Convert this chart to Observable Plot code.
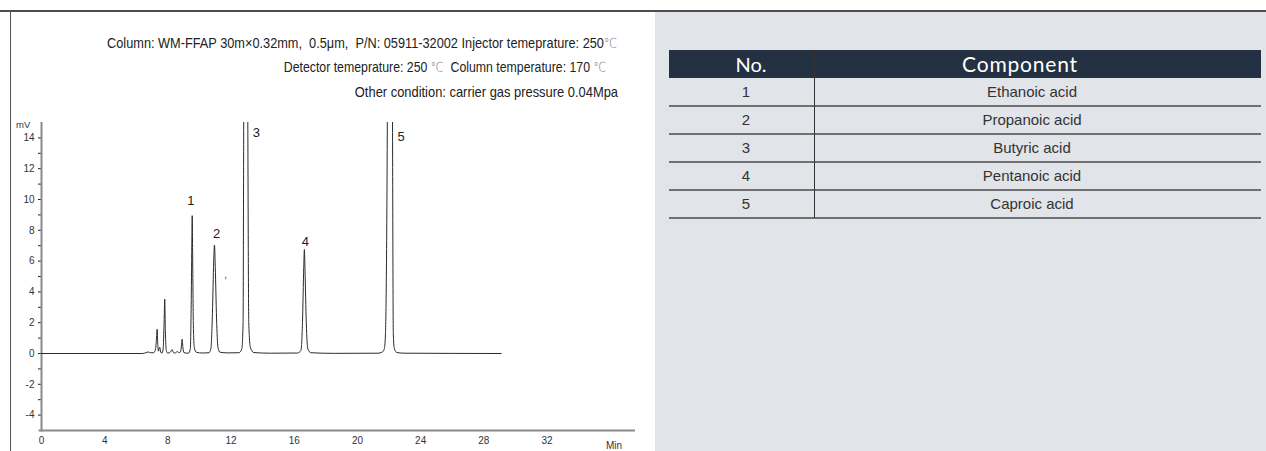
<!DOCTYPE html>
<html>
<head>
<meta charset="utf-8">
<script src="https://cdn.jsdelivr.net/npm/d3@7"></script>
<script src="https://cdn.jsdelivr.net/npm/@observablehq/plot@0.6"></script>
<style>
  html, body { margin: 0; padding: 0; background: #fff; }
  #wrap { position: relative; width: 1266px; height: 451px; overflow: hidden; background: #fff; font-family: "Liberation Sans", Arial, sans-serif; }
  .abs { position: absolute; }
  .cond { font-family: "Liberation Sans", Arial, sans-serif; font-size: 15px; color: #222; white-space: nowrap; text-align: right; transform-origin: right center; }
  .deg { color: #777; font-family: "DejaVu Sans", sans-serif; font-weight: 300; font-size: 14px; }
  .cell { position: absolute; white-space: nowrap; transform: translateX(-50%); }
</style>
</head>
<body>
<div id="wrap">
  <div class="abs" style="left:0;top:10px;width:1266px;height:2px;background:#4d4d4d"></div>
  <div class="abs" style="left:10px;top:11px;width:1px;height:440px;background:#555"></div>
  <div class="abs" style="left:655px;top:12px;width:611px;height:439px;background:#e1e4e9"></div>
  <div class="abs cond" style="top:34px;right:649px;transform:scaleX(0.85)">Column: WM-FFAP 30m×0.32mm,&nbsp; 0.5μm,&nbsp; P/N: 05911-32002 Injector temeprature: 250<span class="deg">℃</span></div>
  <div class="abs cond" style="top:58px;right:660px;transform:scaleX(0.82)">Detector temeprature: 250 <span class="deg">℃</span>&nbsp; Column temperature: 170 <span class="deg">℃</span></div>
  <div class="abs cond" style="top:83px;right:648px;transform:scaleX(0.86)">Other condition: carrier gas pressure 0.04Mpa</div>
  <div class="abs" style="left:16px;top:119px;font-size:9.5px;color:#333">mV</div>
  <div class="abs" style="left:606px;top:440px;font-size:10px;color:#333">Min</div>
  <div id="chart" class="abs" style="left:0;top:100px"></div>
  <div id="table" class="abs" style="left:0;top:0;width:1266px;height:451px"></div>
</div>
<script>
// ---- data ----
const traceTime = [0, 6.4, 6.6, 6.75, 6.9, 7.1, 7.22, 7.28, 7.32, 7.36, 7.4, 7.45, 7.49, 7.54, 7.62, 7.7, 7.76, 7.8, 7.84, 7.9, 7.98, 8.12, 8.2, 8.27, 8.34, 8.45, 8.55, 8.62, 8.7, 8.8, 8.86, 8.9, 8.95, 9.02, 9.3, 9.42, 9.48, 9.52, 9.54, 9.57, 9.61, 9.67, 9.8, 10.2, 10.6, 10.72, 10.82, 10.9, 10.95, 11.0, 11.08, 11.17, 11.3, 11.8, 12.5, 12.68, 12.76, 12.8, 12.93, 13.06, 13.12, 13.22, 13.45, 14.5, 16.2, 16.42, 16.52, 16.6, 16.64, 16.68, 16.76, 16.86, 17.05, 18.5, 21.3, 21.55, 21.7, 21.77, 21.89, 22.05, 22.22, 22.27, 22.34, 22.5, 23.0, 29.1];
const traceSignal = [0, 0, 0.05, 0.1, 0.05, 0.05, 0.3, 1.0, 1.58, 0.6, 0.15, 0.35, 0.4, 0.1, 0.02, 0.3, 2.0, 3.53, 1.5, 0.2, 0.03, 0.05, 0.15, 0.25, 0.08, 0.02, 0.1, 0.12, 0.05, 0.1, 0.5, 0.93, 0.4, 0.05, 0.02, 0.3, 3.5, 7.5, 8.95, 6.0, 2.0, 0.4, 0.08, 0.03, 0.05, 0.3, 2.6, 6.0, 7.04, 5.6, 2.3, 0.4, 0.08, 0.04, 0.05, 0.3, 2.0, 14.9, 60, 14.9, 2.0, 0.4, 0.06, 0.02, 0.03, 0.2, 2.0, 5.6, 6.75, 5.4, 2.0, 0.3, 0.05, 0.01, 0.02, 0.08, 0.3, 1.2, 14.9, 120, 14.9, 1.2, 0.3, 0.06, 0.02, 0];

const peakNo = ["1", "2", "3", "4", "5"];
const peakLabelTime = [9.45, 11.08, 13.6, 16.7, 22.77];
const peakLabelSignal = [9.92, 7.8, 14.36, 7.28, 14.1];

const markText = [","];
const markTime = [11.65];
const markSignal = [5.1];

const xTicks = [0, 4, 8, 12, 16, 20, 24, 28, 32];
const yTicks = [-4, -3, -2, -1, 0, 1, 2, 3, 4, 5, 6, 7, 8, 9, 10, 11, 12, 13, 14];
const yLabelled = [-4, -2, 0, 2, 4, 6, 8, 10, 12, 14];

const tableHeader = ["No.", "Component"];
const componentNo = ["1", "2", "3", "4", "5"];
const componentName = ["Ethanoic acid", "Propanoic acid", "Butyric acid", "Pentanoic acid", "Caproic acid"];

// ---- chart ----
const trace = traceTime.map((t, i) => ({t, v: traceSignal[i]}));
const labels = peakNo.map((n, i) => ({n, t: peakLabelTime[i], v: peakLabelSignal[i]}));
const marks2 = markText.map((s, i) => ({s, t: markTime[i], v: markSignal[i]}));

const chart = Plot.plot({
  width: 655,
  height: 351,
  marginLeft: 41,
  marginRight: 20,
  marginTop: 22,
  marginBottom: 21,
  style: {fontFamily: "Liberation Sans, Arial, sans-serif", background: "transparent", overflow: "visible"},
  x: {domain: [0, 37.6]},
  y: {domain: [-5, 15]},
  marks: [
    Plot.axisY({ticks: yTicks, tickSize: 3, tickPadding: 4, fontSize: 10, stroke: "#222", fill: "#333",
      tickFormat: d => yLabelled.includes(d) ? String(d) : "", label: null}),
    Plot.axisX({ticks: xTicks, tickSize: 0, tickPadding: 6, fontSize: 10, fill: "#333", label: null}),
    Plot.ruleX([0], {y1: -5.1, y2: 15, stroke: "#8a8a8a", strokeWidth: 2}),
    Plot.ruleY([-5], {x1: -0.15, x2: 37.6, stroke: "#8a8a8a", strokeWidth: 2}),
    Plot.line(trace, {x: "t", y: "v", stroke: "#2b2b2b", strokeWidth: 1, curve: "monotone-x", clip: true}),
    Plot.text(labels, {x: "t", y: "v", text: "n", fontSize: 13, fill: "#222"}),
    Plot.text(marks2, {x: "t", y: "v", text: "s", fontSize: 10, fill: "#444"})
  ]
});
document.getElementById("chart").append(chart);

// ---- table ----
const tbl = document.getElementById("table");
const tLeft = 669, tRight = 1261, divX = 814;
const headTop = 50, headH = 28, rowH = 28;
function el(style, text, cls) {
  const d = document.createElement("div");
  d.className = cls || "abs";
  d.setAttribute("style", style);
  if (text != null) d.textContent = text;
  tbl.append(d);
  return d;
}
el(`left:${tLeft}px;top:${headTop}px;width:${tRight - tLeft}px;height:${headH}px;background:#243142`);
el(`left:751px;top:${headTop + 2}px;font-family:Lato, 'Open Sans', sans-serif;font-size:20px;color:#fff`, tableHeader[0], "cell");
el(`left:1020px;top:${headTop + 1}px;font-family:Lato, 'Open Sans', sans-serif;font-size:21px;letter-spacing:0.8px;color:#fff`, tableHeader[1], "cell");
componentNo.forEach((n, i) => {
  const top = headTop + headH + i * rowH;
  el(`left:746px;top:${top + 5}px;font-size:15px;color:#333`, n, "cell");
  el(`left:1032px;top:${top + 5}px;font-size:15px;color:#333`, componentName[i], "cell");
  el(`left:${tLeft}px;top:${top + rowH - 1}px;width:${tRight - tLeft}px;height:1.5px;background:#707070`);
});
el(`left:${divX}px;top:${headTop}px;width:1px;height:${headH + rowH * componentNo.length}px;background:#333`);
</script>
</body>
</html>
